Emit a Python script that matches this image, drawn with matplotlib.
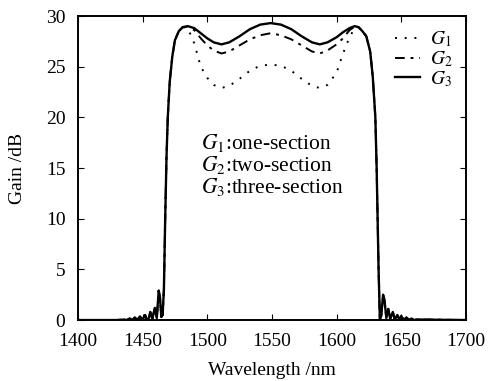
import matplotlib
matplotlib.use("Agg")
import matplotlib.pyplot as plt

plt.rcParams["font.family"] = ["Liberation Serif", "DejaVu Serif"]
plt.rcParams["mathtext.fontset"] = "stix"

# wavelength samples (nm) shared by all three gain curves
wavelength = [
    1400, 1430, 1436, 1438, 1440, 1442, 1444, 1446, 1448, 1450, 1452, 1453,
    1454.5, 1456, 1457.5, 1459.5, 1461, 1462.5, 1463.5, 1464.5, 1465.5,
    1466.5, 1467.5, 1468.5, 1469.5, 1471, 1473, 1475, 1478, 1481,
    1485, 1490, 1495, 1500, 1505, 1511, 1517, 1525, 1533, 1541, 1549,
    1557, 1565, 1573, 1581, 1587, 1593, 1600, 1605, 1610, 1614,
    1617, 1620, 1623, 1626, 1628, 1630, 1631, 1632.5, 1633.5,
    1634.5, 1636, 1637, 1638.5, 1640, 1641.5, 1643.5, 1645, 1647, 1648.5,
    1650, 1652, 1654, 1656, 1658, 1660, 1662, 1700,
]

edge_left = [
    0, 0, 0.05, 0.0, 0.15, 0.0, 0.25, 0.0, 0.35, 0.05, 0.5, 0.1,
    0.05, 0.8, 0.1, 1.2, 0.2, 2.9, 2.2, 0.3, 0.5,
    3.0, 10.0, 16.0, 20.0, 23.5, 26.0, 27.6, 28.5, 28.9,
]
edge_right = [
    28.9, 28.5, 28.0, 26.5, 24.0, 20.0, 15.0, 5.0, 0.0,
    0.4, 2.5, 2.0, 0.2, 1.1, 0.1, 0.8, 0.05, 0.5, 0.05,
    0.4, 0.0, 0.25, 0.0, 0.15, 0.0, 0.05, 0,
]

band_g1 = [28.8, 27.3, 25.0, 23.9, 23.2, 22.9, 23.1, 23.8, 24.6, 25.1, 25.2,
           25.1, 24.6, 23.8, 23.1, 22.9, 23.2, 24.4, 26.3, 27.9, 28.8]
band_g2 = [28.95, 28.6, 27.8, 27.1, 26.6, 26.3, 26.5, 27.1, 27.7, 28.1, 28.3,
           28.1, 27.7, 27.1, 26.5, 26.3, 26.6, 27.2, 27.8, 28.6, 28.95]
band_g3 = [29.0, 28.8, 28.3, 27.8, 27.4, 27.2, 27.4, 28.0, 28.7, 29.15, 29.3,
           29.15, 28.7, 28.0, 27.4, 27.2, 27.4, 27.9, 28.4, 28.8, 29.0]

gain_g1 = edge_left + band_g1 + edge_right
gain_g2 = edge_left + band_g2 + edge_right
gain_g3 = edge_left + band_g3 + edge_right

fig = plt.figure(figsize=(4.93, 3.81), dpi=100)
ax = fig.add_axes([0.158, 0.160, 0.787, 0.798])

ax.plot(wavelength, gain_g1, color="black", lw=1.4, linestyle=(0, (1, 4)),
        label=r"$G_1$")
ax.plot(wavelength, gain_g2, color="black", lw=1.4, linestyle=(0, (5, 3, 1.5, 3)),
        label=r"$G_2$")
ax.plot(wavelength, gain_g3, color="black", lw=1.7, label=r"$G_3$")

ax.text(1495.5, 18.6, "$G_1$:one-section\n$G_2$:two-section\n$G_3$:three-section",
        fontsize=15.5, va="top", ha="left", linespacing=1.0)

ax.set_xlim(1400, 1700)
ax.set_ylim(0, 30)
ax.set_xticks(range(1400, 1701, 50))
ax.set_yticks(range(0, 31, 5))
ax.tick_params(direction="in", top=True, right=True, labelsize=14, length=4)
ax.tick_params(axis="x", pad=9)
ax.tick_params(axis="y", pad=9)
for s in ax.spines.values():
    s.set_linewidth(1.4)
ax.set_xlabel("Wavelength /nm", fontsize=14, labelpad=9)
ax.set_ylabel("Gain /dB", fontsize=14, labelpad=14)

ax.legend(loc="upper right", frameon=False, fontsize=14, handlelength=1.3,
          labelspacing=0.0, handletextpad=0.5, borderaxespad=0.3)

fig.savefig("out.png", dpi=100)
